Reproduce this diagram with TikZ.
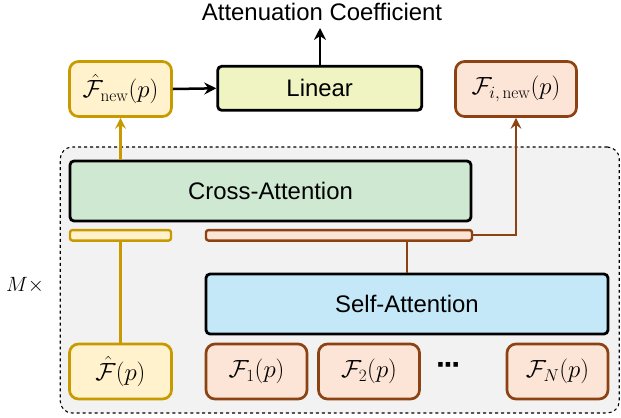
\documentclass[tikz,border=0pt]{standalone}
\usepackage[no-math]{fontspec}
\setmainfont{Liberation Sans}
\usetikzlibrary{arrows.meta,positioning}
\definecolor{goldD}{RGB}{199,154,0}
\definecolor{goldF}{RGB}{255,242,204}
\definecolor{brownD}{RGB}{140,66,18}
\definecolor{brownF}{RGB}{252,229,214}
\definecolor{linF}{RGB}{240,244,195}
\definecolor{greenF}{RGB}{206,232,210}
\definecolor{blueF}{RGB}{196,232,247}
\definecolor{bgG}{RGB}{242,242,242}
\tikzset{
  txt/.style={font=\fontsize{24}{28}\selectfont},
  mth/.style={font=\fontsize{23.5}{28}\selectfont},
  blackbox/.style={draw=black, line width=2.8bp, rounded corners=4bp, inner sep=0pt, txt},
  goldbox/.style={draw=goldD, fill=goldF, line width=2.7bp, rounded corners=9bp, inner sep=0pt, minimum width=102bp, minimum height=55bp, mth},
  brownbox/.style={draw=brownD, fill=brownF, line width=2.7bp, rounded corners=9bp, inner sep=0pt, minimum height=55bp, mth},
  goldbar/.style={draw=goldD, fill=goldF, line width=2.4bp, rounded corners=2.5bp, inner sep=0pt, minimum height=10.5bp},
  brownbar/.style={draw=brownD, fill=brownF, line width=2.4bp, rounded corners=2.5bp, inner sep=0pt, minimum height=10.5bp},
  blackarrow/.style={line width=2.5bp, -{Stealth[length=12bp,width=12bp,inset=4bp]}},
  goldarrow/.style={draw=goldD, line width=2.2bp, -{Stealth[length=11bp,width=11bp,inset=4bp]}},
  brownarrow/.style={draw=brownD, line width=2bp, -{Stealth[length=11bp,width=11bp,inset=4bp]}},
  goldline/.style={draw=goldD, line width=2.2bp},
  brownline/.style={draw=brownD, line width=2bp},
}
\begin{document}
\begin{tikzpicture}[x=1bp,y=-1bp]
\useasboundingbox (0,0) rectangle (621,417);
% background dashed region
\node[draw=black, fill=bgG, dashed, line width=1.1bp, rounded corners=12bp, minimum width=559bp, minimum height=266bp, inner sep=0pt] (bg) at (339.75,280) {};
% top
\node[txt, inner sep=0pt] (title) at (322,12) {Attenuation Coefficient};
\coordinate (titlebot) at (320,28);
\node[blackbox, fill=linF, minimum width=204bp, minimum height=44bp] (linear) at (319.7,88.3) {Linear};
\node[goldbox] (fnewhat) at (120.5,89) {$\hat{\mathcal{F}}_{\mathrm{new}}(p)$};
\node[brownbox, minimum width=121bp] (finew) at (516,89) {$\mathcal{F}_{i,\,\mathrm{new}}(p)$};
% middle
\node[blackbox, fill=greenF, minimum width=401bp, minimum height=60bp] (cross) at (270.5,191) {Cross-Attention};
\node[goldbar, minimum width=101bp] (gbar) at (120.5,235.3) {};
\node[brownbar, minimum width=266bp] (bbar) at (339,235.3) {};
\node[blackbox, fill=blueF, minimum width=402bp, minimum height=60bp] (self) at (407,304) {Self-Attention};
% bottom
\node[goldbox] (fhat) at (120.5,371.5) {$\hat{\mathcal{F}}(p)$};
\node[brownbox, minimum width=101bp] (f1) at (256.5,371.5) {$\mathcal{F}_1(p)$};
\node[brownbox, minimum width=101bp] (f2) at (369,371.5) {$\mathcal{F}_2(p)$};
\node[font=\fontsize{32}{36}\selectfont\bfseries, inner sep=0pt] (dots) at (449,369) {\textperiodcentered\kern-3bp\textperiodcentered\kern-3bp\textperiodcentered};
\node[font=\fontsize{20}{24}\selectfont, inner sep=0pt] (mx) at (25,285) {$M\times$};
\node[brownbox, minimum width=101bp] (fN) at (557.5,371.5) {$\mathcal{F}_N(p)$};
% connectors
\draw[blackarrow] (fnewhat.east) -- (linear.west);
\draw[blackarrow] (linear.north -| titlebot) -- (titlebot);
\draw[goldarrow] (cross.north -| fnewhat.south) -- (fnewhat.south);
\draw[goldline] (fhat.north) -- (fhat.north |- gbar.south);
\coordinate (bturn) at (516,235.3);
\draw[brownline] (self.north) -- (self.north |- bbar.south);
\draw[brownarrow] (bbar.east) -- (bturn) -- (finew.south);
\end{tikzpicture}
\end{document}
